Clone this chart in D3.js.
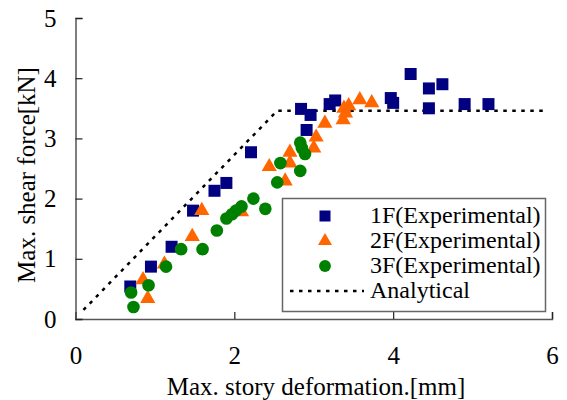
<!DOCTYPE html>
<html>
<head>
<meta charset="utf-8">
<script src="https://cdn.jsdelivr.net/npm/d3@7"></script>
<style>
  body { margin: 0; background: #fff; }
  text { font-family: "Liberation Serif", "Times New Roman", serif; fill: #000; }
</style>
</head>
<body>
<svg id="chart"></svg>
<script>
// 1F experimental
const x1F = [0.69, 0.95, 1.21, 1.48, 1.75, 1.90, 2.21, 2.84, 2.96, 2.91, 3.20, 3.27, 3.97, 4.00, 4.22, 4.45, 4.62, 4.45, 4.90, 5.20];
const y1F = [0.54, 0.87, 1.20, 1.80, 2.13, 2.26, 2.77, 3.49, 3.39, 3.14, 3.57, 3.63, 3.67, 3.59, 4.07, 3.83, 3.90, 3.50, 3.57, 3.57];
// 2F experimental
const x2F = [0.85, 0.91, 1.12, 1.47, 1.59, 2.09, 2.44, 2.64, 2.70, 2.70, 3.00, 3.03, 3.14, 3.37, 3.40, 3.38, 3.44, 3.58, 3.73];
const y2F = [0.65, 0.34, 0.91, 1.37, 1.80, 1.78, 2.53, 2.29, 2.77, 2.59, 2.84, 3.02, 3.25, 3.31, 3.42, 3.50, 3.54, 3.64, 3.59];
// 3F experimental
const x3F = [0.70, 0.73, 0.92, 1.14, 1.33, 1.60, 1.78, 1.90, 1.97, 2.02, 2.09, 2.24, 2.39, 2.54, 2.58, 2.83, 2.83, 2.85, 2.89];
const y3F = [0.44, 0.20, 0.56, 0.87, 1.16, 1.16, 1.47, 1.67, 1.74, 1.80, 1.87, 2.00, 1.83, 2.27, 2.59, 2.46, 2.93, 2.84, 2.74];
// analytical
const xAna = [0.1, 2.54, 5.9];
const yAna = [0.15, 3.46, 3.46];

const xTicks = [0, 2, 4, 6];
const yTicks = [0, 1, 2, 3, 4, 5];
const seriesNames = ["1F(Experimental)", "2F(Experimental)", "3F(Experimental)", "Analytical"];

const svgWidth = 567, svgHeight = 400;
const navy = "#000080", orange = "#ff6600", green = "#008000";

const svg = d3.select("#chart")
    .attr("width", svgWidth)
    .attr("height", svgHeight);

const x = d3.scaleLinear().domain([0, 6]).range([75.5, 552]);
const y = d3.scaleLinear().domain([0, 5]).range([319, 18]);

// axes
const xAxis = svg.append("g")
    .attr("transform", "translate(0,319)")
    .call(d3.axisBottom(x).tickValues(xTicks).tickSize(-7).tickPadding(31).tickFormat(d3.format("d")));
const yAxis = svg.append("g")
    .attr("transform", "translate(75.5,0)")
    .call(d3.axisLeft(y).tickValues(yTicks).tickSize(-7).tickPadding(19).tickFormat(d3.format("d")));

[xAxis, yAxis].forEach(a => {
    a.select(".domain").attr("stroke", "#555").attr("stroke-width", 1.5);
    a.selectAll(".tick line").attr("stroke", "#222").attr("stroke-width", 1.2);
    a.selectAll("text").style("font-size", "25px").attr("fill", "#000");
});
xAxis.selectAll("text").attr("dy", "0.55em");

// axis titles
svg.append("text")
    .attr("x", 316)
    .attr("y", 395)
    .attr("text-anchor", "middle")
    .style("font-size", "25px")
    .text("Max. story deformation.[mm]");

svg.append("text")
    .attr("transform", "translate(35,175) rotate(-90)")
    .attr("text-anchor", "middle")
    .style("font-size", "25px")
    .text("Max. shear force[kN]");

// analytical line
const line = d3.line().x(d => x(d[0])).y(d => y(d[1]));
svg.append("path")
    .datum(d3.zip(xAna, yAna))
    .attr("d", line)
    .attr("fill", "none")
    .attr("stroke", "#000")
    .attr("stroke-width", 2.5)
    .attr("stroke-dasharray", "3.5,5.5");

// markers
const sq = d3.symbol().type(d3.symbolSquare).size(144);
const tri = d3.symbol().type(d3.symbolTriangle).size(100);
const circ = d3.symbol().type(d3.symbolCircle).size(125);

svg.append("g").selectAll("path")
    .data(d3.zip(x1F, y1F))
    .enter()
    .append("path")
    .attr("d", sq)
    .attr("transform", d => `translate(${x(d[0])},${y(d[1])})`)
    .attr("fill", navy);

svg.append("g").selectAll("path")
    .data(d3.zip(x2F, y2F))
    .enter()
    .append("path")
    .attr("d", tri)
    .attr("transform", d => `translate(${x(d[0])},${y(d[1])})`)
    .attr("fill", orange);

svg.append("g").selectAll("path")
    .data(d3.zip(x3F, y3F))
    .enter()
    .append("path")
    .attr("d", circ)
    .attr("transform", d => `translate(${x(d[0])},${y(d[1])})`)
    .attr("fill", green);

// legend
const legend = svg.append("g");
legend.append("rect")
    .attr("x", 282.5).attr("y", 198.5)
    .attr("width", 263).attr("height", 113)
    .attr("fill", "#fff")
    .attr("stroke", "#666")
    .attr("stroke-width", 1.5);

const rowY = [216, 241, 266, 291];
const legendMarks = [
    {sym: d3.symbol().type(d3.symbolSquare).size(121), color: navy},
    {sym: d3.symbol().type(d3.symbolTriangle).size(85), color: orange},
    {sym: d3.symbol().type(d3.symbolCircle).size(110), color: green}
];
legendMarks.forEach((m, i) => {
    legend.append("path")
        .attr("d", m.sym)
        .attr("transform", `translate(325,${rowY[i]})`)
        .attr("fill", m.color);
});
legend.append("line")
    .attr("x1", 290).attr("x2", 364)
    .attr("y1", rowY[3]).attr("y2", rowY[3])
    .attr("stroke", "#000")
    .attr("stroke-width", 2.5)
    .attr("stroke-dasharray", "3.5,5.5");

legend.selectAll("text.lab")
    .data(seriesNames)
    .enter()
    .append("text")
    .attr("class", "lab")
    .attr("x", 370)
    .attr("y", (d, i) => rowY[i] + 7)
    .style("font-size", "24px")
    .text(d => d);
</script>
</body>
</html>
